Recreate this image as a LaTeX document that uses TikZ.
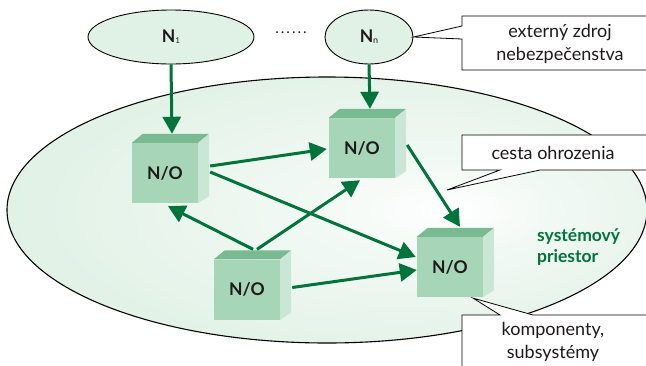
\documentclass[tikz,border=0pt]{standalone}
\usepackage{fontspec}
\setmainfont{Lato}
\usetikzlibrary{arrows.meta,calc,shapes.geometric}
\definecolor{arrg}{RGB}{0,116,58}
\definecolor{ellg}{RGB}{224,241,229}
\definecolor{frontg}{RGB}{166,214,183}
\definecolor{topg}{RGB}{122,186,146}
\definecolor{sideg}{RGB}{202,231,213}
\definecolor{txt}{RGB}{30,26,27}
\pgfdeclareradialshading{ellshade}{\pgfpoint{10bp}{0bp}}{color(0bp)=(white);color(10bp)=(white!55!ellg);color(30bp)=(ellg);color(50bp)=(ellg)}
\newcommand\cubefaces[1]{%
  \fill[topg] (#1.north west) -- ++(11,-9) -- ($(#1.north east)+(11,-9)$) -- (#1.north east) -- cycle;
  \fill[sideg] (#1.north east) -- ++(11,-9) -- ($(#1.south east)+(11,-7)$) -- (#1.south east) -- cycle;}
\tikzset{
  ell/.style={ellipse, draw=black, line width=0.9pt, fill=ellg, inner sep=0pt, font=\fontsize{17.5}{17.5}\selectfont\bfseries, text=txt},
  cube/.style={rectangle, fill=frontg, minimum width=66pt, minimum height=60pt, inner sep=0pt, font=\fontsize{17.5}{17.5}\selectfont\bfseries, text=txt},
  arr/.style={draw=arrg, line width=3pt, -{Triangle[length=17pt,width=18pt]}},
  call/.style={draw=black, line width=0.8pt, fill=white},
  ctext/.style={align=center, font=\fontsize{18}{23}\selectfont, text=txt, inner sep=0pt},
  systxt/.style={align=left, font=\fontsize{17.5}{21}\selectfont\bfseries, text=arrg, inner sep=0pt, anchor=west}
}
\begin{document}
\begin{tikzpicture}[x=1pt,y=-1pt]
\useasboundingbox (0,0) rectangle (646,365);
\clip (0,0) rectangle (646,365);
% system space
\shadedraw[shading=ellshade, draw=black, line width=1.1pt] (327,210) ellipse [x radius=320pt, y radius=133pt];
% external sources
\node[ell, minimum width=166pt, minimum height=54pt] (N1) at (171,37) {N\raisebox{-1pt}{\fontsize{8}{8}\selectfont\mdseries 1}};
\node[ell, minimum width=88pt, minimum height=54pt] (Nn) at (369,37) {N\raisebox{-1pt}{\fontsize{9}{9}\selectfont\mdseries n}};
\node[font=\fontsize{15}{15}\selectfont, text=txt] (dots) at (291,33) {.\kern2pt.\kern2pt.\kern2pt.\kern2pt.\kern2pt.};
% callouts
\draw[call] (Nn.east) -- (462,26) -- (462,16) -- (660,16) -- (660,70) -- (462,70) -- (462,39) -- cycle;
\node[ctext] (c1) at (560,44) {externý zdroj\\nebezpečenstva};
\coordinate (p2) at (447,190);
\draw[call] (p2) -- (500,170) -- (462,170) -- (462,135) -- (660,135) -- (660,170) -- (540,170) -- cycle;
\node[ctext] (c2) at (553,153) {cesta ohrozenia};
% cubes
\node[cube] (A) at (165,173) {N/O};
\node[cube] (B) at (362,148) {N/O};
\node[cube] (C) at (247,289.5) {N/O};
\node[cube] (D) at (450,267) {N/O};
\cubefaces{A}\cubefaces{B}\cubefaces{C}\cubefaces{D}
\draw[call] ($(D.south east)+(-10,1)$) -- (500,315) -- (462,315) -- (462,380) -- (660,380) -- (660,315) -- (533,315) -- cycle;
\node[ctext] (c3) at (553,342) {komponenty,\\subsystémy};
\node[systxt] (sys) at (537,247) {systémový\\priestor};
% arrows
\draw[arr] (N1.south) -- ($(A.north)+(7,-9)$);
\draw[arr] (Nn.south) -- ($(B.north)+(8,-9)$);
\draw[arr] ($(A.east)+(12,-7)$) -- ($(B.west)+(-2,1)$);
\draw[arr] ($(A.east)+(12,-1)$) -- ($(D.west)+(-1,-10)$);
\draw[arr] ($(C.north)+(6,-10)$) -- ($(A.south)+(3,3)$);
\draw[arr] ($(C.north)+(10,-10)$) -- ($(B.south)+(-2,2)$);
\draw[arr] ($(C.east)+(12,-2)$) -- ($(D.west)+(0,3)$);
\draw[arr] ($(B.east)+(12,-3)$) -- ($(D.north)+(10,-10)$);
\end{tikzpicture}
\end{document}
